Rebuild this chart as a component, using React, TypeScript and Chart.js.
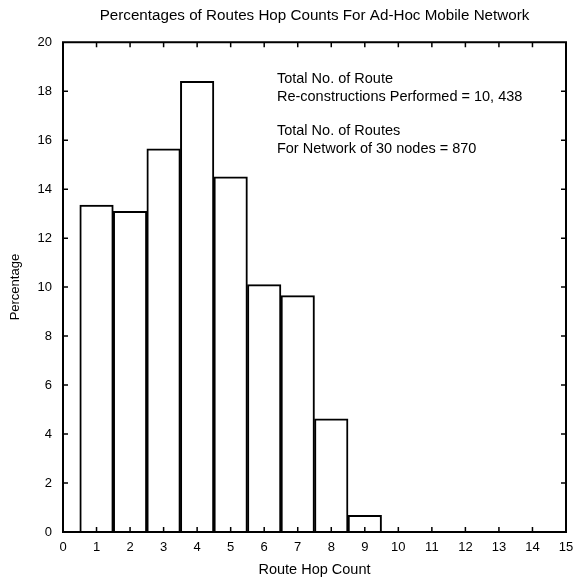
import React, { useEffect, useRef } from "react";
import { Chart, registerables } from "chart.js";

Chart.register(...registerables);

const hopCounts = [1, 2, 3, 4, 5, 6, 7, 8, 9, 10, 11, 12, 13, 14];
const percentages = [13.35, 13.1, 15.65, 18.4, 14.5, 10.1, 9.65, 4.62, 0.68, 0, 0, 0, 0, 0];
const xTicks = [0, 1, 2, 3, 4, 5, 6, 7, 8, 9, 10, 11, 12, 13, 14, 15];
const yTicks = [0, 2, 4, 6, 8, 10, 12, 14, 16, 18, 20];
const titleText = "Percentages of Routes Hop Counts For Ad-Hoc Mobile Network";
const xTitle = "Route Hop Count";
const yTitle = "Percentage";
const noteLines = [
  "Total No. of Route",
  "Re-constructions Performed = 10, 438",
  "",
  "Total No. of Routes",
  "For Network of 30 nodes = 870",
];

const FONT = "'Liberation Sans', Arial, Helvetica, sans-serif";

const framePlugin = {
  id: "frameTicks",
  afterDatasetsDraw(chart: any) {
    const { ctx, chartArea, scales } = chart;
    const xs = scales.x;
    const ys = scales.y;
    const { left, right, top, bottom } = chartArea;
    ctx.save();
    ctx.strokeStyle = "#000";
    ctx.lineWidth = 1.5;
    const tl = 5;
    ctx.beginPath();
    xTicks.forEach((v) => {
      if (v === xTicks[0] || v === xTicks[xTicks.length - 1]) return;
      const px = xs.getPixelForValue(v);
      ctx.moveTo(px, bottom);
      ctx.lineTo(px, bottom - tl);
      ctx.moveTo(px, top);
      ctx.lineTo(px, top + tl);
    });
    yTicks.forEach((v) => {
      if (v === yTicks[0] || v === yTicks[yTicks.length - 1]) return;
      const py = ys.getPixelForValue(v);
      ctx.moveTo(left, py);
      ctx.lineTo(left + tl, py);
      ctx.moveTo(right, py);
      ctx.lineTo(right - tl, py);
    });
    ctx.stroke();
    ctx.lineWidth = 2;
    ctx.strokeRect(left, top, right - left, bottom - top);

    ctx.fillStyle = "#000";
    ctx.font = "14.5px " + FONT;
    ctx.textAlign = "left";
    ctx.textBaseline = "middle";
    const tx = xs.getPixelForValue(6.38);
    let ty = top + 37;
    noteLines.forEach((line) => {
      if (line) ctx.fillText(line, tx, ty);
      ty += line ? 17.5 : 17;
    });
    ctx.restore();
  },
};

export default function App() {
  const ref = useRef<HTMLCanvasElement | null>(null);
  useEffect(() => {
    if (!ref.current) return;
    const chart = new Chart(ref.current, {
      type: "bar",
      data: {
        datasets: [
          {
            data: hopCounts.map((h, i) => ({ x: h, y: percentages[i] })),
            backgroundColor: "#ffffff",
            borderColor: "#000000",
            borderWidth: 2,
            barPercentage: 1,
            categoryPercentage: 1,
          },
        ],
      },
      options: {
        animation: false,
        responsive: false,
        maintainAspectRatio: false,
        layout: { padding: { left: 0, right: 12, top: 0, bottom: 0 } },
        plugins: {
          legend: { display: false },
          tooltip: { enabled: false },
          title: {
            display: true,
            text: titleText,
            fullSize: false,
            color: "#000",
            font: { family: FONT, size: 15.2, weight: "normal" },
            padding: { top: 7, bottom: 17 },
          },
        },
        scales: {
          x: {
            type: "linear",
            min: 0,
            max: 15,
            offset: false,
            grid: { display: false, drawTicks: false },
            border: { display: false },
            afterBuildTicks: (s: any) => {
              s.ticks = xTicks.map((v) => ({ value: v }));
            },
            afterFit: (s: any) => {
              s.height = 47;
              s.paddingLeft = 0;
              s.paddingRight = 0;
            },
            ticks: {
              color: "#000",
              font: { family: FONT, size: 13 },
              padding: 8,
              maxRotation: 0,
              autoSkip: false,
            },
            title: {
              display: true,
              text: xTitle,
              color: "#000",
              font: { family: FONT, size: 14.5 },
              padding: { top: 0, bottom: 0 },
            },
          },
          y: {
            type: "linear",
            min: 0,
            max: 20,
            grid: { display: false, drawTicks: false },
            border: { display: false },
            afterBuildTicks: (s: any) => {
              s.ticks = yTicks.map((v) => ({ value: v }));
            },
            afterFit: (s: any) => {
              s.width = 63;
              s.paddingTop = 0;
              s.paddingBottom = 0;
            },
            ticks: {
              color: "#000",
              font: { family: FONT, size: 13 },
              padding: 11,
            },
            title: {
              display: true,
              text: yTitle,
              color: "#000",
              font: { family: FONT, size: 13 },
              padding: { top: 8, bottom: 0 },
            },
          },
        },
      },
      plugins: [framePlugin],
    } as any);
    return () => chart.destroy();
  }, []);
  return (
    <div style={{ position: "fixed", left: 0, top: 0, width: 578, height: 579, background: "#fff" }}>
      <canvas ref={ref} width={578} height={579} style={{ display: "block", width: 578, height: 579 }} />
    </div>
  );
}
